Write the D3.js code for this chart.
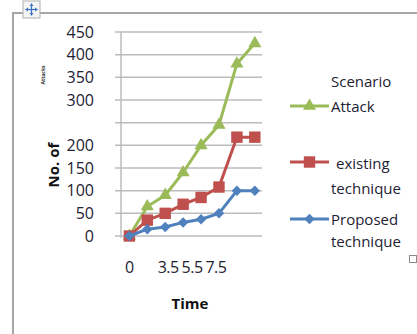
<!DOCTYPE html>
<html>
<head>
<meta charset="utf-8">
<script src="https://cdn.jsdelivr.net/npm/d3@7"></script>
<style>
  body { margin: 0; background: #fff; }
  svg { display: block; font-family: "Open Sans", "Liberation Sans", Arial, sans-serif; }
  .grid line { stroke: #bcbcbc; stroke-width: 1.5; }
  .tick-label { font-size: 16px; fill: #1e2233; }
  .title { font-size: 15px; font-weight: bold; fill: #111; }
  .legend-text { font-size: 15px; fill: #1e2233; }
</style>
</head>
<body>
<svg id="chart" width="417" height="334"></svg>
<script>
// Data
const times = [0, 1.5, 3, 4.5, 6, 7.5, 9, 10.5];
const attack = [0, 65, 90, 140, 200, 245, 380, 425];
const existing = [0, 35, 50, 70, 85, 108, 218, 218];
const proposed = [0, 15, 20, 30, 37, 50, 100, 100];
const yTickLabels = ['0', '50', '100', '150', '200', '', '300', '350', '400', '450'];
const yTickValues = [0, 50, 100, 150, 200, 250, 300, 350, 400, 450];
const xTickValues = [0, 3.5, 5.5, 7.5];

const series = [
  { name: 'Attack', values: attack, color: '#9bbb59', symbol: d3.symbolTriangle, size: 75, rotate: 0 },
  { name: 'existing technique', values: existing, color: '#c0504d', symbol: d3.symbolSquare, size: 130, rotate: 0 },
  { name: 'Proposed technique', values: proposed, color: '#4f81bd', symbol: d3.symbolSquare, size: 55, rotate: 45 }
];

const svg = d3.select('#chart');

// Frame of the embedded object
svg.append('line').attr('x1', 12).attr('y1', 13).attr('x2', 417).attr('y2', 13)
  .attr('stroke', '#a6a6a6').attr('stroke-width', 2);
svg.append('line').attr('x1', 13).attr('y1', 13).attr('x2', 13).attr('y2', 334)
  .attr('stroke', '#a6a6a6').attr('stroke-width', 2);

// Move handle icon
const handle = svg.append('g').attr('transform', 'translate(23,1)');
handle.append('rect').attr('width', 17).attr('height', 17)
  .attr('fill', '#f4f4f4').attr('stroke', '#b0b0b0');
const ic = handle.append('g').attr('transform', 'translate(8.5,8.5)')
  .attr('stroke', '#3a6fc4').attr('stroke-width', 1.2).attr('fill', '#3a6fc4');
ic.append('line').attr('x1', -6).attr('x2', 6);
ic.append('line').attr('y1', -6).attr('y2', 6);
[0, 90, 180, 270].forEach(a => {
  ic.append('path').attr('d', 'M6,0 L3.5,-2 L3.5,2 Z').attr('transform', `rotate(${a})`).attr('stroke', 'none');
});

// small square bottom right
svg.append('rect').attr('x', 409.5).attr('y', 255.5).attr('width', 7).attr('height', 7)
  .attr('fill', '#fff').attr('stroke', '#8a8a8a');

// Scales
const x = d3.scaleLinear().domain([-0.7, 11.1]).range([121, 262]);
const y = d3.scaleLinear().domain([0, 450]).range([236, 32]);

// Gridlines with tick marks
const grid = svg.append('g').attr('class', 'grid');
grid.selectAll('line').data(yTickValues).enter().append('line')
  .attr('x1', 115).attr('x2', 262)
  .attr('y1', d => y(d)).attr('y2', d => y(d));

// Vertical axis
svg.append('line').attr('x1', 121).attr('x2', 121).attr('y1', y(450)).attr('y2', y(0) + 2)
  .attr('stroke', '#bcbcbc').attr('stroke-width', 1.5);

// Y tick labels
svg.append('g').selectAll('text').data(yTickValues).enter().append('text')
  .attr('class', 'tick-label')
  .attr('x', 94)
  .attr('y', d => y(d) + 5.5)
  .attr('text-anchor', 'end')
  .text((d, i) => yTickLabels[i]);

// X tick labels
svg.append('g').selectAll('text').data(xTickValues).enter().append('text')
  .attr('class', 'tick-label')
  .attr('x', d => x(d) - (d > 0 ? 3 : 0))
  .attr('y', 273)
  .attr('text-anchor', 'middle')
  .attr('letter-spacing', -0.5)
  .text(d => d);

// Axis titles
svg.append('text').attr('class', 'title')
  .attr('transform', 'translate(59,165) rotate(-90)')
  .attr('text-anchor', 'middle')
  .text('No. of');
svg.append('text')
  .attr('transform', 'translate(45,75) rotate(-90)')
  .attr('text-anchor', 'middle')
  .attr('font-size', 5).attr('font-weight', 'bold').attr('fill', '#333')
  .text('Attacks');
svg.append('text').attr('class', 'title')
  .attr('x', 190).attr('y', 309)
  .attr('text-anchor', 'middle')
  .text('Time');

// Lines and markers
const line = d3.line().x((d, i) => x(times[i])).y(d => y(d));
series.forEach(s => {
  svg.append('path').datum(s.values)
    .attr('d', line)
    .attr('fill', 'none')
    .attr('stroke', s.color)
    .attr('stroke-width', 3)
    .attr('stroke-linejoin', 'round');
  svg.append('g').selectAll('path').data(s.values).enter().append('path')
    .attr('d', d3.symbol().type(s.symbol).size(s.size))
    .attr('transform', (d, i) => `translate(${x(times[i])},${y(d)}) rotate(${s.rotate})`)
    .attr('fill', s.color);
});

// Legend
const legend = svg.append('g');
legend.append('text').attr('class', 'legend-text').attr('x', 331).attr('y', 87).text('Scenario');
const legendRows = [
  { s: series[0], ly: 106, lines: [['Attack', 331, 112]] },
  { s: series[1], ly: 162, lines: [['existing', 336, 169], ['technique', 331, 194]] },
  { s: series[2], ly: 219, lines: [['Proposed', 331, 225], ['technique', 331, 247]] }
];
legendRows.forEach(r => {
  legend.append('line').attr('x1', 290).attr('x2', 329).attr('y1', r.ly).attr('y2', r.ly)
    .attr('stroke', r.s.color).attr('stroke-width', 3);
  legend.append('path')
    .attr('d', d3.symbol().type(r.s.symbol).size(r.s.size))
    .attr('transform', `translate(309.5,${r.ly}) rotate(${r.s.rotate})`)
    .attr('fill', r.s.color);
  r.lines.forEach(([t, lx, ty]) => {
    legend.append('text').attr('class', 'legend-text').attr('x', lx).attr('y', ty).text(t);
  });
});
</script>
</body>
</html>
